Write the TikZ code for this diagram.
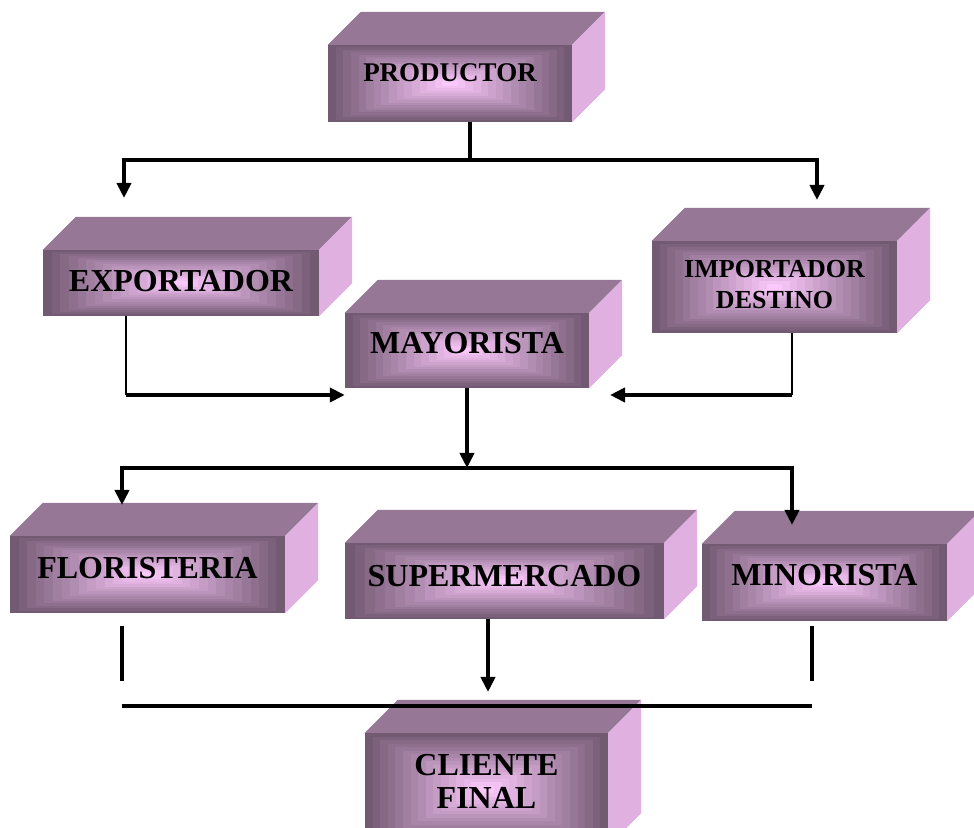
\documentclass[tikz,border=0pt]{standalone}
\usepackage{fontspec}
\setmainfont{Liberation Serif}
\usetikzlibrary{arrows.meta, calc}
\definecolor{facedark}{HTML}{735A73}
\definecolor{facelight}{HTML}{FAC8FA}
\definecolor{facetop}{HTML}{967896}
\definecolor{faceside}{HTML}{E0B0E0}

\begin{document}
\begin{tikzpicture}[
  x=1pt, y=1pt,
  box/.style={rectangle, fill=facedark, inner sep=0pt, align=center,
    font=\bfseries\fontsize{32}{33}\selectfont,
    path picture={
      \foreach \k in {0,...,15}{
        \pgfmathsetmacro{\gstep}{\k/16}
        \pgfmathsetmacro{\gmix}{100*\k/15}
        \fill[facelight!\gmix!facedark]
          ($(path picture bounding box.south west)!\gstep!(path picture bounding box.center)$) rectangle
          ($(path picture bounding box.north east)!\gstep!(path picture bounding box.center)$);
      }
    }},
  arrow/.style={-{Triangle[length=15pt, width=14pt]}, line width=4pt},
  stem/.style={line width=4pt},
  wire/.style={line width=1.6pt},
]
\useasboundingbox (0,0) rectangle (974,827);
\clip (0,0) rectangle (974,827);

\node[box, minimum width=244pt, minimum height=77pt, text depth=22pt,
  font=\bfseries\fontsize{27}{30}\selectfont] (prod) at (450,743.5) {PRODUCTOR};
\node[box, minimum width=276pt, minimum height=66pt, text depth=4pt] (expo) at (181,544) {EXPORTADOR};
\node[box, minimum width=244pt, minimum height=75pt, text depth=16pt] (mayo) at (467,476.5) {MAYORISTA};
\node[box, minimum width=245pt, minimum height=92pt, text depth=5pt,
  font=\bfseries\fontsize{26}{31}\selectfont] (impo) at (774.5,540) {IMPORTADOR\\DESTINO};
\node[box, minimum width=275pt, minimum height=77pt, text depth=14pt] (flor) at (147.5,252.5) {FLORISTERIA};
\node[box, minimum width=319pt, minimum height=76pt, text depth=11pt] (super) at (504.5,246) {SUPERMERCADO};
\node[box, minimum width=245pt, minimum height=77pt, text depth=15pt] (mino) at (824.5,244.5) {MINORISTA};
\node[box, minimum width=243pt, minimum height=113pt, text depth=17pt] (cli) at (486.5,37.5) {CLIENTE\\FINAL};

% top and side faces
\foreach \n in {prod,expo,mayo,impo,flor,super,mino,cli}{
  \fill[facetop] (\n.north west) -- ++(33,33) -- ([shift={(33,33)}]\n.north east) -- (\n.north east) -- cycle;
  \fill[faceside] (\n.north east) -- ++(33,33) -- ([shift={(33,33)}]\n.south east) -- (\n.south east) -- cycle;
}

% junctions and free ends
\coordinate (p1) at (470,667);
\coordinate (toexpo) at (124,629);
\coordinate (toimpo) at (817,627);
\coordinate (e1) at (126,432);
\coordinate (i1) at (792,432);
\coordinate (mright) at (610,432);
\coordinate (m1) at (467,359);
\coordinate (toflor) at (122,322);
\coordinate (tomino) at (792,302);
\coordinate (f1) at (122,201);
\coordinate (f2) at (122,146);
\coordinate (n1) at (812,201);
\coordinate (n2) at (812,146);
\coordinate (s1) at (488,135);
\coordinate (b1) at (122,121);
\coordinate (b2) at (812,121);

\draw[stem] (prod.south -| p1) -- (p1);
\draw[arrow] (p1) -| (toexpo);
\draw[arrow] (p1) -| (toimpo);

\draw[wire] (expo.south -| e1) -- (e1);
\draw[arrow] (e1) -- (e1 -| mayo.west);
\draw[wire] (impo.south -| i1) -- (i1);
\draw[arrow] (i1) -- (mright);

\draw[arrow] (mayo.south) -- (m1);
\draw[arrow] (m1) -| (toflor);
\draw[arrow] (m1) -| (tomino);

\draw[stem] (f1) -- (f2);
\draw[stem] (n1) -- (n2);
\draw[arrow] (super.south -| s1) -- (s1);
\draw[stem] (b1) -- (b2);

\end{tikzpicture}
\end{document}
